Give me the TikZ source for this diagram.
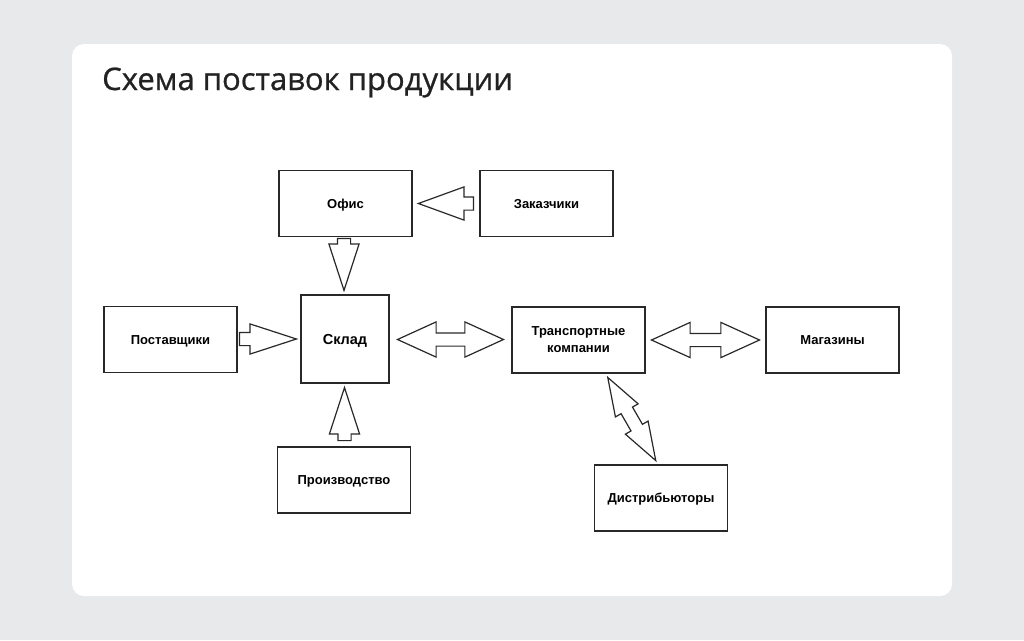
\documentclass[tikz,border=0pt]{standalone}
\usepackage{fontspec}
\setmainfont{Liberation Sans}
\newfontfamily\titlefont[FakeBold=0.8]{Open Sans}
\usetikzlibrary{shapes.arrows,calc,positioning}
\definecolor{pagegray}{RGB}{232,233,235}
\definecolor{linegray}{RGB}{40,40,40}
\definecolor{titlegray}{RGB}{34,34,34}
\tikzset{
  box/.style={draw=linegray, line width=1.3pt, fill=white, minimum width=133pt, minimum height=66pt, inner sep=2pt, align=center, text=black, text height=9.3pt, text depth=0pt, font=\bfseries\fontsize{13}{17}\selectfont},
  onearrow/.style={single arrow, draw=linegray, line width=1.2pt, fill=white, inner xsep=0pt, inner ysep=6pt, single arrow head extend=8.5pt, single arrow tip angle=36, minimum width=1pt, anchor=tip},
  twoarrow/.style={double arrow, draw=linegray, line width=1.2pt, fill=white, inner xsep=0pt, inner ysep=6pt, double arrow head extend=11pt, double arrow tip angle=49, minimum width=1pt}
}
\begin{document}
\begin{tikzpicture}[x=1pt,y=-1pt]
\useasboundingbox (0,0) rectangle (1024,640);
\fill[pagegray] (0,0) rectangle (1024,640);
\fill[white, rounded corners=12pt] (72,44) rectangle (952,596);
\node[anchor=base west, inner sep=0pt, text=titlegray, font=\titlefont\fontsize{31}{36}\selectfont] (title) at (102,90) {Схема поставок продукции};
% boxes
\node[box] (ofis) at (345.5,203.5) {Офис};
\node[box] (zakaz) at (546.5,203.5) {Заказчики};
\node[box] (postav) at (170.5,339.5) {Поставщики};
\node[box, minimum width=88pt, minimum height=88pt, text height=10.4pt, font=\bfseries\fontsize{14.5}{17}\selectfont] (sklad) at (345,339) {Склад};
\node[box, text height={}, text depth={}] (trans) at (578.5,340) {Транспортные\\компании};
\node[box] (magaz) at (832.5,340) {Магазины};
\node[box] (proizv) at (344,480) {Производство};
\node[box] (distr) at (661,498) {Дистрибьюторы};
% arrows
\node[onearrow, minimum height=55pt, single arrow head extend=10pt, single arrow tip angle=40, rotate=180] (a1) at ($(ofis.east)+(4,0)$) {};
\node[onearrow, minimum height=52pt, rotate=-90] (a2) at ($(sklad.north)+(-1,-2)$) {};
\node[onearrow, minimum height=57pt] (a3) at ($(sklad.west)+(-2,0)$) {};
\node[onearrow, minimum height=53pt, rotate=90] (a4) at ($(sklad.south)+(-0.5,2)$) {};
\node[twoarrow, minimum height=106pt] (a5) at ($(sklad.east)!0.5!(trans.west)$) {};
\node[twoarrow, minimum height=108pt] (a6) at ($(trans.east)!0.5!(magaz.west)$) {};
\node[twoarrow, minimum height=96pt, double arrow head extend=6.5pt, double arrow tip angle=38, rotate=-60] (a7) at ($(trans.south)!0.5!(distr.north)+(12,0)$) {};
\end{tikzpicture}
\end{document}
